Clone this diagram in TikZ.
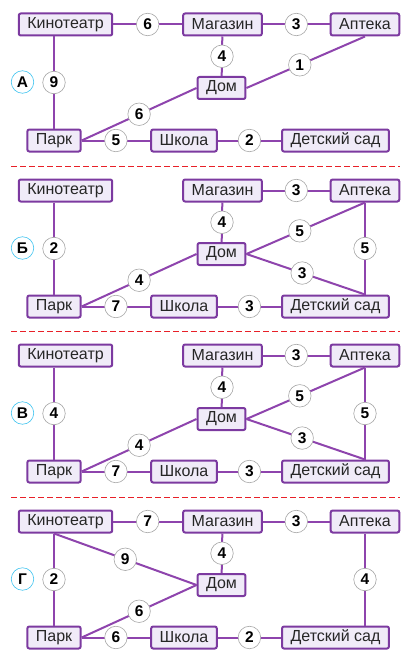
\documentclass[tikz,border=0pt]{standalone}
\usepackage{fontspec}
\setmainfont{Liberation Sans}
\usetikzlibrary{positioning}

\definecolor{roadc}{RGB}{142,68,173}
\definecolor{boxc}{RGB}{124,58,160}
\definecolor{boxfill}{RGB}{240,235,248}
\definecolor{tagc}{RGB}{64,196,240}
\definecolor{cutc}{RGB}{232,32,40}

\tikzset{
  place/.style={draw=boxc, fill=boxfill, line width=2pt, rounded corners=2pt,
    minimum height=22pt, inner xsep=8.5pt, inner ysep=0pt,
    font=\fontsize{16}{16}\selectfont, text=black!85},
  road/.style={draw=roadc, line width=2pt},
  wt/.style={circle, draw=black!35, fill=white, line width=0.6pt, minimum size=22.5pt,
    inner sep=0pt, font=\fontsize{15.5}{15.5}\selectfont\bfseries, text=black},
  tag/.style={wt, draw=tagc},
  cut/.style={draw=cutc, line width=1pt, dash pattern=on 6pt off 3pt}
}

\begin{document}
\begin{tikzpicture}[x=1pt, y=-1pt]
  \useasboundingbox (0,0) rectangle (410,666);

  % places, the same in every variant
  \foreach \p/\dy/\lab in {a/0/А, b/166/Б, v/331/В, g/497/Г} {
    \begin{scope}[shift={(0,\dy)}]
      \node[place] (\p-kino) at (65.5,24.5) {Кинотеатр};
      \node[place] (\p-mag) at (222.5,24.5) {Магазин};
      \node[place] (\p-apt) at (365,24.5) {Аптека};
      \node[place] (\p-dom) at (221.5,88) {Дом};
      \node[place] (\p-park) at (54,140.5) {Парк};
      \node[place] (\p-shk) at (184,140.5) {Школа};
      \node[place] (\p-dsad) at (335.5,140.5) {Детский сад};
      \node[tag] (\p-tag) at (22.5,82) {\lab};
    \end{scope}
  }

  % separators
  \draw[cut] (11,166) -- (400,166);
  \draw[cut] (11,331.5) -- (400,331.5);
  \draw[cut] (11,497) -- (400,497);

  % variant A
  \draw[road] (a-kino) -- node[wt] {6} (a-mag);
  \draw[road] (a-mag) -- node[wt] {3} (a-apt);
  \draw[road] (a-park |- a-kino.south) -- node[wt] {9} (a-park);
  \draw[road] (a-mag) -- node[wt] {4} (a-dom);
  \draw[road] (a-dom.east) -- node[wt, pos=.45] {1} (a-apt.south);
  \draw[road] (a-park.east) -- node[wt] {6} (a-dom.west);
  \draw[road] (a-park) -- node[wt] {5} (a-shk);
  \draw[road] (a-shk) -- node[wt] {2} (a-dsad);

  % variants B and V differ in one road only
  \foreach \p/\k in {b/2, v/4} {
    \draw[road] (\p-park |- \p-kino.south) -- node[wt] {\k} (\p-park);
    \draw[road] (\p-mag) -- node[wt] {3} (\p-apt);
    \draw[road] (\p-mag) -- node[wt] {4} (\p-dom);
    \draw[road] (\p-dom.east) -- node[wt, pos=.45] {5} (\p-apt.south);
    \draw[road] (\p-dom.east) -- node[wt, pos=.47] {3} (\p-apt |- \p-dsad.north);
    \draw[road] (\p-apt) -- node[wt] {5} (\p-apt |- \p-dsad.north);
    \draw[road] (\p-park.east) -- node[wt] {4} (\p-dom.west);
    \draw[road] (\p-park) -- node[wt] {7} (\p-shk);
    \draw[road] (\p-shk) -- node[wt] {3} (\p-dsad);
  }

  % variant G
  \draw[road] (g-kino) -- node[wt] {7} (g-mag);
  \draw[road] (g-mag) -- node[wt] {3} (g-apt);
  \draw[road] (g-park |- g-kino.south) -- node[wt] {2} (g-park);
  \draw[road] (g-park |- g-kino.south) -- node[wt] {9} (g-dom.west);
  \draw[road] (g-mag) -- node[wt] {4} (g-dom);
  \draw[road] (g-park.east) -- node[wt] {6} (g-dom.west);
  \draw[road] (g-park) -- node[wt] {6} (g-shk);
  \draw[road] (g-shk) -- node[wt] {2} (g-dsad);
  \draw[road] (g-apt) -- node[wt] {4} (g-apt |- g-dsad.north);
\end{tikzpicture}
\end{document}
